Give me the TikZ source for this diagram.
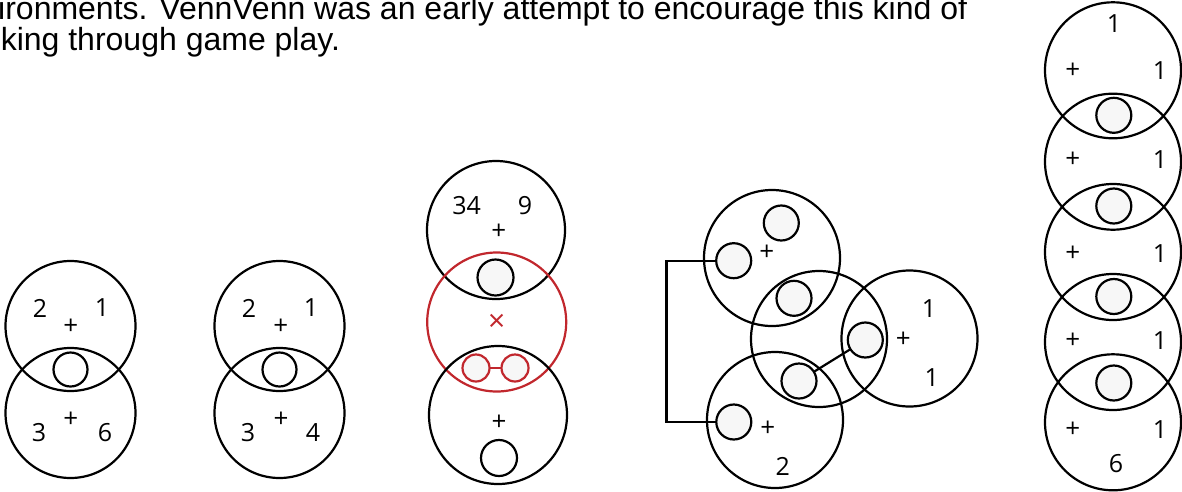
\documentclass[tikz,border=0pt]{standalone}
\usepackage{fontspec}
\setmainfont{Liberation Sans}
\newfontfamily\txtfont{Liberation Sans}
\newfontfamily\lblfont{Open Sans}
\definecolor{vred}{RGB}{193,39,45}
\definecolor{vfill}{RGB}{247,247,247}
\tikzset{
  bigc/.style={circle, draw=black, line width=2.2pt, inner sep=0pt, outer sep=0pt, minimum size=#1},
  redc/.style={circle, draw=vred, line width=2.2pt, inner sep=0pt, outer sep=0pt, minimum size=#1},
  smallc/.style={circle, draw=black, line width=2.2pt, fill=vfill, inner sep=0pt, outer sep=0pt, minimum size=#1},
  smallw/.style={circle, draw=black, line width=2.2pt, fill=white, inner sep=0pt, outer sep=0pt, minimum size=#1},
  smallr/.style={circle, draw=vred, line width=2.2pt, fill=vfill, inner sep=0pt, outer sep=0pt, minimum size=#1},
  lbl/.style={inner sep=0pt, font=\lblfont\fontsize{25}{25}\selectfont},
  plus/.style={inner sep=0pt, font=\lblfont\fontsize{26}{26}\selectfont},
  times/.style={inner sep=0pt, text=vred, font=\lblfont\fontsize{30}{30}\selectfont},
  bodytext/.style={inner sep=0pt, anchor=base west, font=\txtfont\fontsize{32}{32}\selectfont},
  link/.style={draw=black, line width=2.2pt},
  redlink/.style={draw=vred, line width=2.2pt}
}
\begin{document}
\begin{tikzpicture}[x=1pt,y=-1pt]
\useasboundingbox (0,0) rectangle (1182,491);

% body text (top cut off by the page, as in the reference)
\node[bodytext] (t1) at (-2,19) {ironments. VennVenn was an early attempt to encourage this kind of};
\node[bodytext] (t2) at (0.6,50.7) {king through game play.};

% ---------- pair 1 ----------
\node[bigc=130pt] (p1a) at (70.5,326) {};
\node[bigc=130pt] (p1b) at (70.5,413) {};
\node[smallw=34pt] (p1s) at (70.5,369.5) {};
\node[lbl] (p1l1) at (40,308) {2};
\node[lbl] (p1l2) at (102,308) {1};
\node[plus] (p1l3) at (70.7,327) {+};
\node[lbl] (p1l4) at (39,433) {3};
\node[plus] (p1l5) at (70.7,420) {+};
\node[lbl] (p1l6) at (105,433) {6};

% ---------- pair 2 ----------
\node[bigc=130pt] (p2a) at (279.5,326) {};
\node[bigc=130pt] (p2b) at (279.5,413) {};
\node[smallw=34pt] (p2s) at (279.5,369.5) {};
\node[lbl] (p2l1) at (249,308) {2};
\node[lbl] (p2l2) at (311,308) {1};
\node[plus] (p2l3) at (280.7,327) {+};
\node[lbl] (p2l4) at (248,433) {3};
\node[plus] (p2l5) at (281,420) {+};
\node[lbl] (p2l6) at (313,433) {4};

% ---------- red column ----------
\node[bigc=138pt] (r1) at (496,230) {};
\node[redc=139pt] (r2) at (496.7,322) {};
\node[bigc=138pt] (r3) at (498,415) {};
\node[smallc=36pt] (rs1) at (495.5,277.5) {};
\node[smallr=27pt] (rs2) at (476,368) {};
\node[smallr=27pt] (rs3) at (515,368) {};
\draw[redlink] (rs2) -- (rs3);
\node[smallw=36pt] (rs4) at (499,458) {};
\node[lbl] (rl1) at (466.7,206) {34};
\node[lbl] (rl2) at (525,206) {9};
\node[plus] (rl3) at (498.7,231.7) {+};
\node[times] (rl4) at (496.7,322.7) {×};
\node[plus] (rl5) at (499,423) {+};

% ---------- venn graph ----------
\node[bigc=136pt] (ga) at (772,258) {};
\node[bigc=136pt] (gb) at (819,339) {};
\node[bigc=136pt] (gc) at (909.5,338.5) {};
\node[bigc=136pt] (gd) at (775,420) {};
\node[smallc=35pt] (ga1) at (781.3,223) {};
\node[smallc=35pt] (ga2) at (733.7,260.7) {};
\node[smallc=35pt] (gb1) at (794,298.3) {};
\node[smallc=35pt] (gc1) at (865.3,340) {};
\node[smallc=35pt] (gb2) at (799,381) {};
\node[smallc=35pt] (gd1) at (733.8,422) {};
\draw[link] (gc1) -- (gb2);
\draw[link] (ga2.west) -- ++(-49.7,0) coordinate (gk) |- (gd1.west);
\node[plus] (gl1) at (766.7,252.7) {+};
\node[lbl] (gl2) at (929,308.3) {1};
\node[plus] (gl3) at (903.3,339.3) {+};
\node[lbl] (gl4) at (931.7,377.3) {1};
\node[plus] (gl5) at (767.7,428.3) {+};
\node[lbl] (gl6) at (782.7,466.7) {2};

% ---------- right stack ----------
\node[bigc=136pt] (s1) at (1113,70.3) {};
\node[bigc=136pt] (s2) at (1113,161.7) {};
\node[bigc=136pt] (s3) at (1113,252) {};
\node[bigc=136pt] (s4) at (1113,342) {};
\node[bigc=136pt] (s5) at (1113,422.3) {};
\node[smallc=35pt] (ss1) at (1113.8,115.3) {};
\node[smallc=35pt] (ss2) at (1113.8,206) {};
\node[smallc=35pt] (ss3) at (1113.8,296.5) {};
\node[smallc=35pt] (ss4) at (1113.8,383) {};
\node[lbl] (sl0) at (1114,23.3) {1};
\node[plus] (sl1) at (1072.7,71) {+};
\node[lbl] (sl2) at (1160,71) {1};
\node[plus] (sl3) at (1072.7,160) {+};
\node[lbl] (sl4) at (1160,160) {1};
\node[plus] (sl5) at (1072.7,253.3) {+};
\node[lbl] (sl6) at (1160,253.3) {1};
\node[plus] (sl7) at (1072.7,341) {+};
\node[lbl] (sl8) at (1160,341) {1};
\node[plus] (sl9) at (1072.7,430) {+};
\node[lbl] (sl10) at (1160,430) {1};
\node[lbl] (sl11) at (1116,463.3) {6};
\end{tikzpicture}
\end{document}
